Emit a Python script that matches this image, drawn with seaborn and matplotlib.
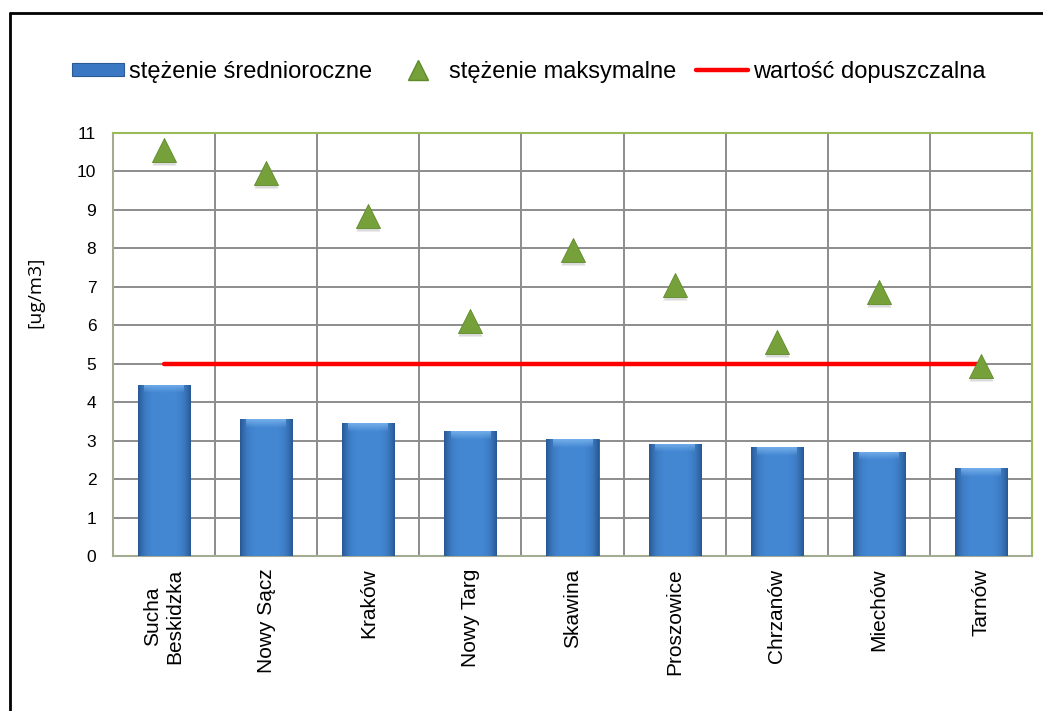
import matplotlib
matplotlib.use('Agg')
import matplotlib.pyplot as plt
import seaborn as sns
import numpy as np
import pandas as pd
from matplotlib.lines import Line2D
from matplotlib.patches import Patch

# dane
cities = ['Sucha\nBeskidzka', 'Nowy Sącz', 'Kraków', 'Nowy Targ', 'Skawina',
          'Proszowice', 'Chrzanów', 'Miechów', 'Tarnów']
mean_vals = [4.45, 3.56, 3.45, 3.24, 3.03, 2.92, 2.83, 2.71, 2.28]
max_vals = [10.55, 9.97, 8.84, 6.11, 7.96, 7.05, 5.57, 6.87, 4.94]
limit_vals = [5, 5, 5, 5, 5, 5, 5, 5, 5]

df = pd.DataFrame({'miasto': cities, 'srednia': mean_vals,
                   'max': max_vals, 'limit': limit_vals})

sns.set_style('white')
plt.rcParams['font.family'] = ['Liberation Sans', 'DejaVu Sans']
plt.rcParams['text.color'] = 'black'

bar_col = '#3B78C4'
tri_col = '#76A03A'
grid_col = '#8C8C8C'
frame_col = '#9BBB59'

fig = plt.figure(figsize=(10.43, 7.11), dpi=100)
ax = fig.add_axes([0.1083, 0.218, 0.8812, 0.595])

sns.barplot(data=df, x='miasto', y='srednia', color=bar_col, width=0.51,
            saturation=1, ax=ax, zorder=3, edgecolor='#2A5A94', linewidth=0.6)

# gradient na slupkach
prof = np.linspace(-1, 1, 60)
w = 1 - prof ** 4
dark = np.array([0x28, 0x58, 0x94]) / 255
light = np.array([0x44, 0x88, 0xD4]) / 255
grad = dark[None, :] + (light - dark)[None, :] * w[:, None]
grad = grad[None, :, :]
for p in ax.patches:
    x0, y0 = p.get_x(), p.get_y()
    bw, bh = p.get_width(), p.get_height()
    im = ax.imshow(grad, extent=[x0, x0 + bw, y0, y0 + bh], aspect='auto',
                   zorder=4, interpolation='bicubic')
    im.set_clip_path(p)
    top = np.linspace(0, 1, 20)[:, None, None]
    hl = np.concatenate([np.ones((20, 1, 3)) * np.array([0x7A, 0xB4, 0xEE]) / 255,
                         (1 - top) * 0.9], axis=2)
    im2 = ax.imshow(hl, extent=[x0 + bw * 0.12, x0 + bw * 0.88, y0 + bh - 0.22, y0 + bh],
                    aspect='auto', zorder=5, interpolation='bicubic')
    im2.set_clip_path(p)

# linia wartosci dopuszczalnej
sns.lineplot(data=df, x='miasto', y='limit', color='#FF0000', linewidth=3.2,
             ax=ax, zorder=6, sort=False)

# trojkaty - maksimum (z cieniem)
sns.scatterplot(data=df, x='miasto', y='max', marker='^', s=300, color='#9A9A9A',
                alpha=0.35, linewidth=0, ax=ax, zorder=6)
sns.scatterplot(data=df, x='miasto', y='max', marker='^', s=300, color=tri_col,
                edgecolor='#5E8A2A', linewidth=0.6, ax=ax, zorder=7)
shadow = ax.collections[-2]
shadow.set_offsets(shadow.get_offsets() - np.array([0, 0.08]))

ax.set_xlim(-0.5, len(cities) - 0.5)
ax.set_ylim(0, 11)
ax.set_yticks(range(0, 12))
ax.set_xlabel('')
ax.set_ylabel('')

ax.set_xticks(np.arange(-0.5, len(cities), 1), minor=True)
ax.set_xticks(range(len(cities)))
ax.set_xticklabels(cities, rotation=90, fontsize=15, ma='center')
ax.tick_params(axis='x', which='major', length=0, pad=9, labelcolor='black')
ax.tick_params(axis='x', which='minor', length=5, color=grid_col, width=1.2)
ax.tick_params(axis='y', length=4, color=grid_col, width=1.2, labelsize=12.5,
               pad=8, labelcolor='black')

ax.grid(axis='y', color=grid_col, linewidth=1.4, zorder=0)
ax.grid(axis='x', which='minor', color=grid_col, linewidth=1.4, zorder=0)
ax.set_axisbelow(True)
for s in ['top', 'right']:
    ax.spines[s].set_color(frame_col)
    ax.spines[s].set_linewidth(1.5)
for s in ['left', 'bottom']:
    ax.spines[s].set_color('#A3AC92')
    ax.spines[s].set_linewidth(1.5)

fig.text(35 / 1043, 1 - 292 / 711, '[ug/m3]', rotation=90, ha='center', va='center',
         fontsize=14, color='black', family=['Open Sans', 'DejaVu Sans'])

# legenda
handles = [Patch(facecolor=bar_col, edgecolor='#2A5A94', linewidth=0.8),
           Line2D([], [], marker='^', linestyle='none', markersize=14,
                  markerfacecolor=tri_col, markeredgecolor='#5E8A2A'),
           Line2D([], [], color='#FF0000', linewidth=3.2)]
labels = ['stężenie średnioroczne', 'stężenie maksymalne', 'wartość dopuszczalna']
fig.legend(handles, labels, loc='center', bbox_to_anchor=(0.507, 0.899), ncol=3,
           frameon=False, fontsize=17, handlelength=2.2, handleheight=0.45,
           handletextpad=0.2, columnspacing=0.85)

# ramka
fig.add_artist(Line2D([10 / 1043, 10 / 1043], [0, 1 - 13 / 711], color='black',
                      linewidth=2, transform=fig.transFigure))
fig.add_artist(Line2D([10 / 1043, 1], [1 - 13 / 711, 1 - 13 / 711], color='black',
                      linewidth=2, transform=fig.transFigure))

plt.savefig('out.png', dpi=100)
